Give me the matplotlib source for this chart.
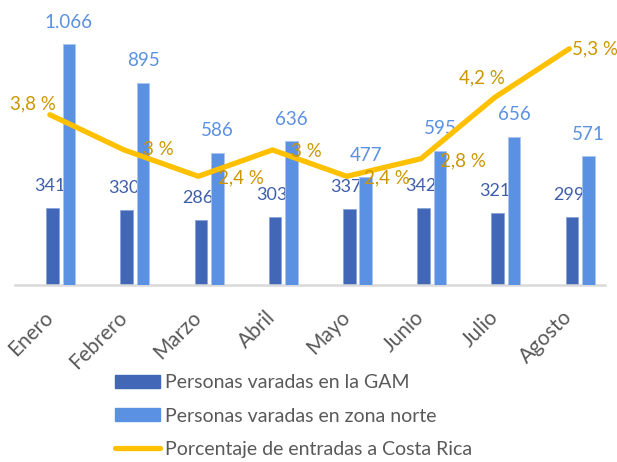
import matplotlib
matplotlib.use('Agg')
import matplotlib.pyplot as plt
from matplotlib.patches import Patch
from matplotlib.lines import Line2D
import numpy as np

# --- DATOS ---
meses = ['Enero', 'Febrero', 'Marzo', 'Abril', 'Mayo', 'Junio', 'Julio', 'Agosto']
varadas_gam = [341, 330, 286, 303, 337, 342, 321, 299]
varadas_norte = [1066, 895, 586, 636, 477, 595, 656, 571]
pct_entradas = [3.8, 3.0, 2.4, 3.0, 2.4, 2.8, 4.2, 5.3]

# desplazamiento (px) de cada etiqueta de la linea respecto a su punto
offsets_pct = [(-17, 11), (34, 0), (43, -2), (34, -2), (40, -2), (42, -2), (-13, 19), (26, 0)]

# --- ESTILO ---
plt.rcParams['font.family'] = ['Lato', 'DejaVu Sans']
c_gam = '#4267B6'
c_norte = '#5B91E2'
c_linea = '#FFC000'
c_texto = '#595959'
px = 0.72  # puntos por pixel a 100 dpi

fig = plt.figure(figsize=(6.17, 4.62), dpi=100)
ax = fig.add_axes([15 / 617, (462 - 285) / 462, 590 / 617, 275 / 462])

x = np.arange(len(meses))
ancho = 0.17
ax.bar(x + 0.034, varadas_gam, ancho, color=c_gam, edgecolor='#8AA4D8', linewidth=0.6, zorder=2)
ax.bar(x + 0.256, varadas_norte, ancho, color=c_norte, edgecolor='#A9C6F0', linewidth=0.6, zorder=3)

def fmt_miles(v):
    return f'{v:,}'.replace(',', '.')

for xi, v in zip(x, varadas_gam):
    ax.annotate(fmt_miles(v), (xi + 0.034, v), xytext=(-3 * px, 22 * px), textcoords='offset points',
                ha='center', va='center', fontsize=13, color='#3F5EAA', zorder=2.5)
for xi, v in zip(x, varadas_norte):
    ax.annotate(fmt_miles(v), (xi + 0.256, v), xytext=(0, 22 * px), textcoords='offset points',
                ha='center', va='center', fontsize=13.5, color=c_norte, zorder=4)

ax.set_xlim(-0.47, 7.48)
ax.set_ylim(0, 1218)
ax.set_yticks([])
for lado in ['top', 'left', 'right']:
    ax.spines[lado].set_visible(False)
ax.spines['bottom'].set_color('#D9D9D9')
ax.spines['bottom'].set_linewidth(1.8)
ax.set_xticks(x)
ax.set_xticklabels(meses, rotation=45, ha='right', va='center', rotation_mode='anchor',
                   fontsize=15, color=c_texto)
ax.tick_params(axis='x', length=0, pad=21)

# --- LINEA EN EJE SECUNDARIO ---
ax2 = ax.twinx()
ax2.plot(x, pct_entradas, color=c_linea, linewidth=3.8, solid_capstyle='round',
         solid_joinstyle='round', zorder=5)
ax2.set_ylim(-0.07, 6.18)
ax2.set_yticks([])
for lado in ['top', 'left', 'right', 'bottom']:
    ax2.spines[lado].set_visible(False)

for xi, v, (dx, dy) in zip(x, pct_entradas, offsets_pct):
    etiqueta = f'{v:g}'.replace('.', ',') + ' %'
    ax2.annotate(etiqueta, (xi, v), xytext=(dx * px, dy * px), textcoords='offset points',
                 ha='center', va='center', fontsize=13.5, color='#CC9600', zorder=6)

# --- LEYENDA ---
handles = [Patch(facecolor=c_gam, edgecolor=c_gam),
           Patch(facecolor=c_norte, edgecolor=c_norte),
           Line2D([0], [0], color=c_linea, linewidth=3.8, solid_capstyle='round')]
etiquetas = ['Personas varadas en la GAM', 'Personas varadas en zona norte',
             'Porcentaje de entradas a Costa Rica']
fig.legend(handles, etiquetas, loc='upper left', bbox_to_anchor=(115 / 617, 1 - 374 / 462),
           frameon=False, fontsize=14, labelcolor=c_texto, handlelength=2.3,
           handleheight=0.68, handletextpad=0.25, labelspacing=0.85, borderpad=0,
           borderaxespad=0)

fig.savefig('out.png', dpi=100)
